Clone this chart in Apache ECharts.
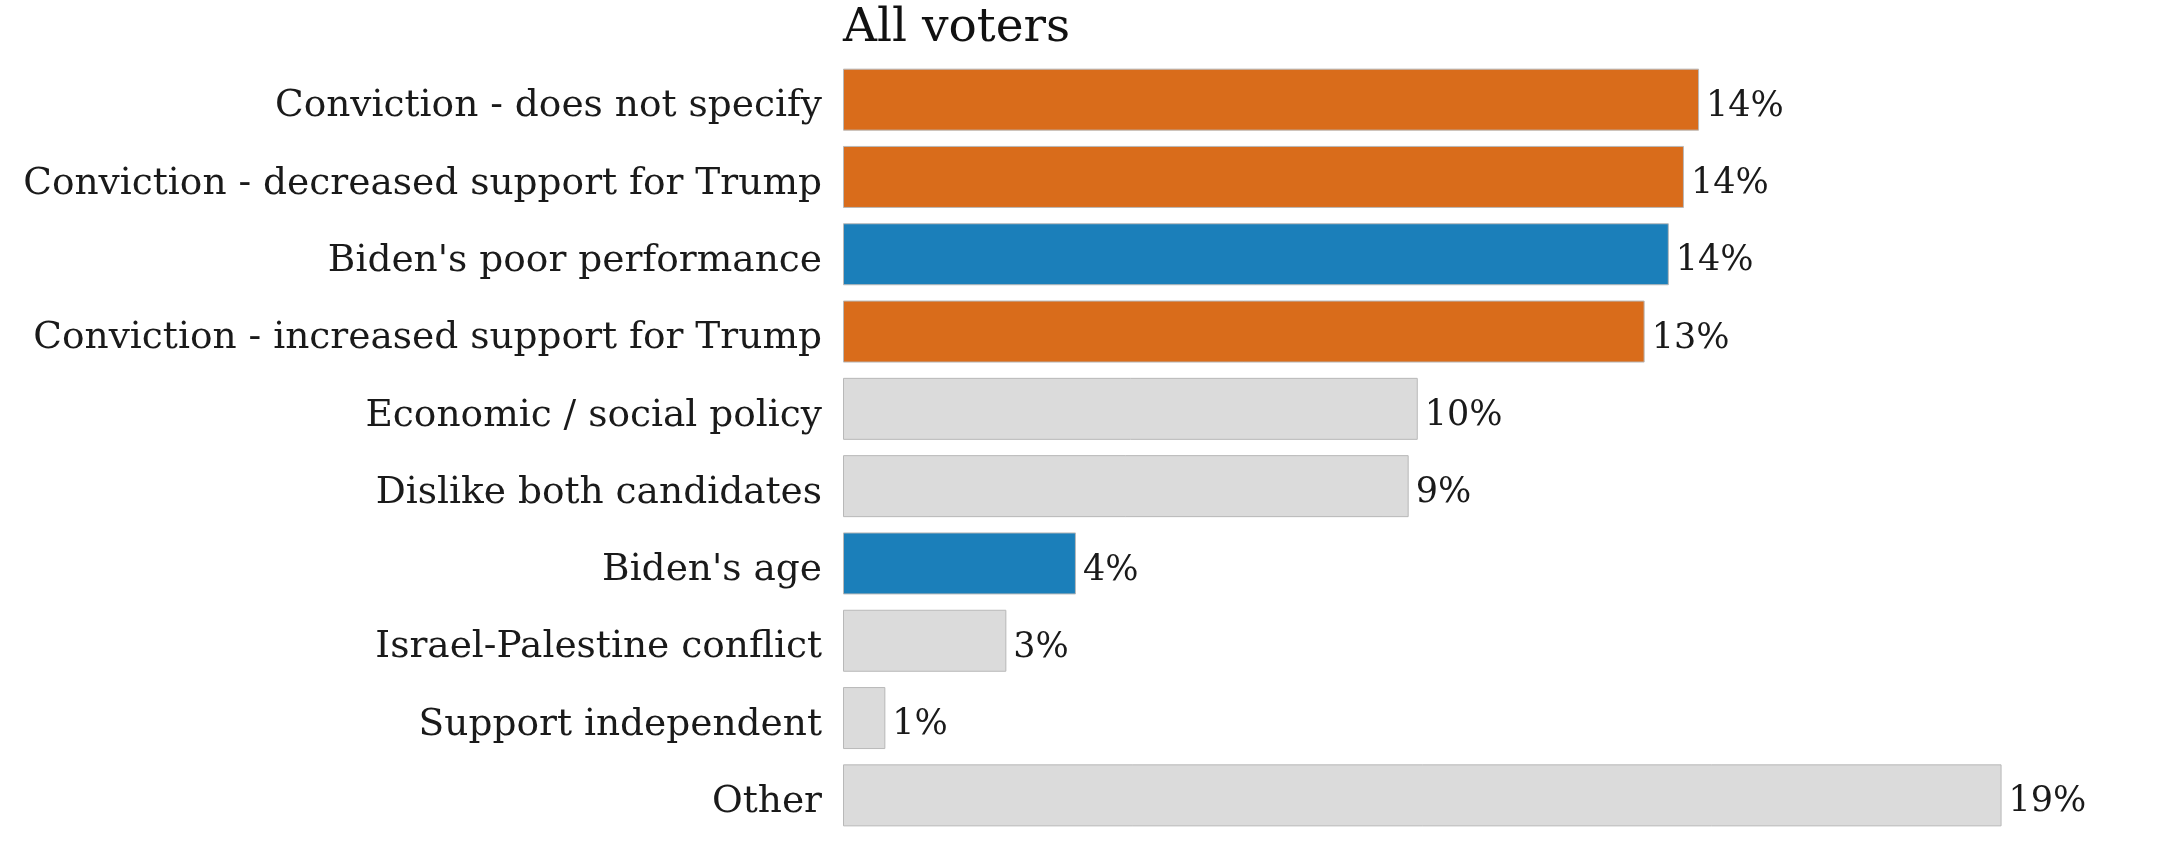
<!DOCTYPE html>
<html>
<head>
<meta charset="utf-8">
<script src="https://cdn.jsdelivr.net/npm/echarts@6/dist/echarts.min.js"></script>
<style>
html,body{margin:0;padding:0;background:#fff;}
#chart{width:2176px;height:841px;}
</style>
</head>
<body>
<div id="chart"></div>
<script>
const categories = [
  "Conviction - does not specify",
  "Conviction - decreased support for Trump",
  "Biden's poor performance",
  "Conviction - increased support for Trump",
  "Economic / social policy",
  "Dislike both candidates",
  "Biden's age",
  "Israel-Palestine conflict",
  "Support independent",
  "Other"
];
const values = [14.15, 13.9, 13.65, 13.25, 9.5, 9.35, 3.85, 2.7, 0.7, 19.15];
const valueLabels = ["14%", "14%", "14%", "13%", "10%", "9%", "4%", "3%", "1%", "19%"];
const groups = ["conviction", "conviction", "biden", "conviction", "other", "other", "biden", "other", "other", "other"];
const titleText = "All voters";

const groupColors = { conviction: "#D96C1B", biden: "#1B7FBA", other: "#DBDBDB" };
const FONT = "DejaVu Serif";

const chart = echarts.init(document.getElementById('chart'));
chart.setOption({
  backgroundColor: '#ffffff',
  animation: false,
  title: {
    text: titleText,
    left: 838,
    top: 0,
    textStyle: { fontFamily: FONT, fontSize: 47, fontWeight: 'normal', color: '#111' }
  },
  grid: { left: 843, right: 123, top: 61, bottom: 7 },
  xAxis: {
    type: 'value', min: 0, max: 20, show: false
  },
  yAxis: {
    type: 'category',
    data: categories,
    inverse: true,
    axisLine: { show: false },
    axisTick: { show: false },
    splitLine: { show: false },
    axisLabel: {
      margin: 21,
      formatter: v => '{t|' + v + '}',
      rich: {
        t: { fontFamily: FONT, fontSize: 37.5, color: '#1a1a1a', padding: [14, 0, 0, 0] }
      }
    }
  },
  series: [{
    type: 'bar',
    barWidth: 62,
    data: values.map((v, i) => ({
      value: v,
      itemStyle: { color: groupColors[groups[i]], borderColor: '#b8b8b8', borderWidth: 1 }
    })),
    label: {
      show: true,
      position: 'right',
      distance: 7,
      offset: [0, 7],
      formatter: p => valueLabels[p.dataIndex],
      fontFamily: FONT,
      fontSize: 35,
      color: '#1a1a1a'
    }
  }]
});
</script>
</body>
</html>
